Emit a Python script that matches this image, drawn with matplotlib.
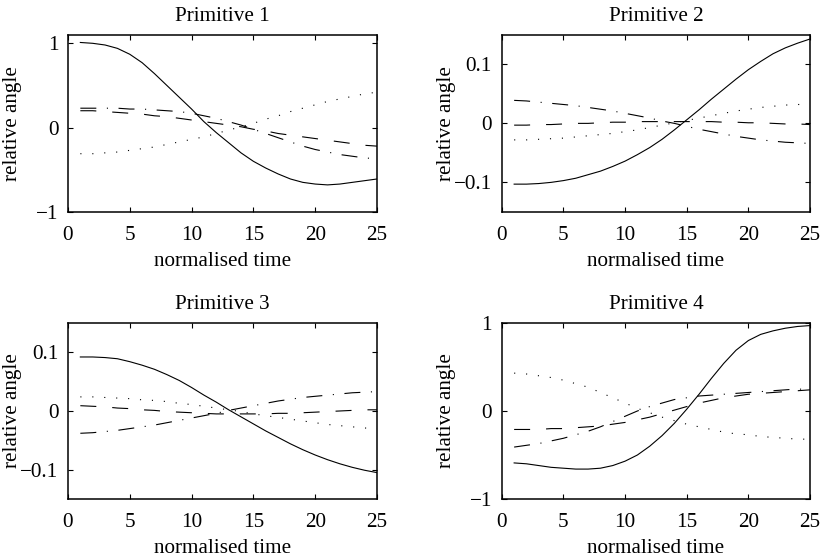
import matplotlib

matplotlib.use("Agg")
import matplotlib.pyplot as plt
import numpy as np

FIGSIZE = (8.24, 5.59)
DPI = 100
FONT_SIZE = 15.2

TIME = np.arange(1, 26)

# Primitive 1
P1_SOLID = [1.01, 1.00, 0.98, 0.94, 0.87, 0.77, 0.64, 0.50, 0.36, 0.22, 0.07, -0.06, -0.18,
            -0.30, -0.40, -0.48, -0.55, -0.61, -0.65, -0.67, -0.68, -0.67, -0.65, -0.63, -0.61]
P1_DOTTED = [-0.31, -0.31, -0.30, -0.29, -0.27, -0.25, -0.23, -0.20, -0.17, -0.14, -0.11, -0.07, -0.03,
             0.01, 0.05, 0.10, 0.14, 0.19, 0.23, 0.27, 0.31, 0.34, 0.37, 0.40, 0.42]
P1_DASHED = [0.20, 0.20, 0.19, 0.18, 0.17, 0.16, 0.14, 0.13, 0.11, 0.09, 0.07, 0.05, 0.03,
             0.01, -0.02, -0.04, -0.07, -0.09, -0.11, -0.13, -0.15, -0.17, -0.19, -0.21, -0.22]
P1_DASHDOT = [0.23, 0.23, 0.23, 0.23, 0.22, 0.22, 0.21, 0.20, 0.19, 0.17, 0.14, 0.11, 0.07,
              0.03, -0.02, -0.07, -0.12, -0.17, -0.22, -0.26, -0.29, -0.32, -0.34, -0.36, -0.37]

# Primitive 2
P2_SOLID = [-0.103, -0.103, -0.102, -0.100, -0.097, -0.093, -0.087, -0.081, -0.073, -0.064, -0.053,
            -0.041, -0.027, -0.011, 0.006, 0.023, 0.041, 0.058, 0.075, 0.091, 0.105, 0.118, 0.128,
            0.136, 0.143]
P2_DOTTED = [-0.028, -0.028, -0.027, -0.026, -0.025, -0.023, -0.021, -0.019, -0.017, -0.014, -0.011,
             -0.007, -0.003, 0.001, 0.005, 0.009, 0.013, 0.017, 0.021, 0.024, 0.027, 0.029, 0.031,
             0.032, 0.032]
P2_DASHED = [-0.003, -0.003, -0.002, -0.002, -0.001, 0.000, 0.000, 0.001, 0.002, 0.002, 0.003, 0.003,
             0.003, 0.003, 0.003, 0.003, 0.003, 0.002, 0.002, 0.001, 0.001, 0.000, -0.001, -0.001,
             -0.002]
P2_DASHDOT = [0.039, 0.038, 0.036, 0.034, 0.032, 0.030, 0.027, 0.024, 0.021, 0.017, 0.013, 0.009,
              0.004, 0.000, -0.005, -0.010, -0.014, -0.018, -0.022, -0.025, -0.028, -0.030, -0.032,
              -0.033, -0.034]

# Primitive 3
P3_SOLID = [0.092, 0.092, 0.091, 0.089, 0.084, 0.078, 0.071, 0.062, 0.052, 0.040, 0.027, 0.015,
            0.002, -0.010, -0.022, -0.034, -0.045, -0.056, -0.066, -0.075, -0.083, -0.090, -0.096,
            -0.101, -0.105]
P3_DOTTED = [0.024, 0.024, 0.023, 0.022, 0.021, 0.019, 0.018, 0.016, 0.013, 0.011, 0.008, 0.005,
             0.002, -0.001, -0.005, -0.008, -0.011, -0.014, -0.017, -0.020, -0.023, -0.025, -0.027,
             -0.029, -0.030]
P3_DASHED = [0.009, 0.008, 0.007, 0.005, 0.004, 0.002, 0.001, -0.001, -0.002, -0.003, -0.004, -0.005,
             -0.005, -0.005, -0.005, -0.005, -0.004, -0.004, -0.003, -0.002, -0.001, 0.000, 0.001,
             0.002, 0.002]
P3_DASHDOT = [-0.038, -0.037, -0.035, -0.033, -0.030, -0.027, -0.024, -0.020, -0.016, -0.012, -0.008,
              -0.004, 0.001, 0.005, 0.009, 0.013, 0.017, 0.020, 0.023, 0.025, 0.027, 0.029, 0.031,
              0.032, 0.033]

# Primitive 4
P4_SOLID = [-0.59, -0.60, -0.62, -0.64, -0.65, -0.66, -0.66, -0.65, -0.62, -0.57, -0.50, -0.40, -0.28,
            -0.14, 0.02, 0.19, 0.37, 0.54, 0.69, 0.80, 0.87, 0.91, 0.94, 0.96, 0.97]
P4_DOTTED = [0.43, 0.42, 0.40, 0.38, 0.35, 0.31, 0.27, 0.21, 0.15, 0.09, 0.03, -0.02, -0.07,
             -0.11, -0.15, -0.18, -0.21, -0.24, -0.26, -0.27, -0.29, -0.30, -0.31, -0.32, -0.32]
P4_DASHED = [-0.21, -0.21, -0.21, -0.20, -0.20, -0.19, -0.18, -0.17, -0.15, -0.13, -0.10, -0.07, -0.03,
             0.01, 0.05, 0.09, 0.12, 0.15, 0.17, 0.19, 0.20, 0.21, 0.22, 0.23, 0.24]
P4_DASHDOT = [-0.41, -0.39, -0.37, -0.34, -0.31, -0.27, -0.23, -0.18, -0.12, -0.06, 0.00, 0.05, 0.09,
              0.13, 0.15, 0.17, 0.18, 0.19, 0.20, 0.21, 0.22, 0.23, 0.24, 0.25, 0.24]

TITLES = ["Primitive 1", "Primitive 2", "Primitive 3", "Primitive 4"]
XTICKS = [0, 5, 10, 15, 20, 25]
BIG_YTICKS = [-1, 0, 1]
BIG_YLABELS = ["\u22121", "0", "1"]
SMALL_YTICKS = [-0.1, 0, 0.1]
SMALL_YLABELS = ["\u22120.1", "0", "0.1"]

# MATLAB-like line styles, dash lengths in points
STYLES = {
    "solid": "-",
    "dotted": (0, (0.8, 7.8)),
    "dashed": (0, (11.5, 11.5)),
    "dashdot": (0, (11.5, 7.6, 0.8, 7.6)),
}

PANELS = [
    # (left, bottom, width, height), ylim, yticks, ylabels, series
    ((0.0825, 0.621, 0.375, 0.3166), (-1, 1.1), BIG_YTICKS, BIG_YLABELS,
     (P1_SOLID, P1_DOTTED, P1_DASHED, P1_DASHDOT)),
    ((0.609, 0.621, 0.374, 0.3166), (-0.15, 0.15), SMALL_YTICKS, SMALL_YLABELS,
     (P2_SOLID, P2_DOTTED, P2_DASHED, P2_DASHDOT)),
    ((0.0825, 0.1073, 0.375, 0.315), (-0.15, 0.15), SMALL_YTICKS, SMALL_YLABELS,
     (P3_SOLID, P3_DOTTED, P3_DASHED, P3_DASHDOT)),
    ((0.609, 0.1073, 0.374, 0.315), (-1, 1), BIG_YTICKS, BIG_YLABELS,
     (P4_SOLID, P4_DOTTED, P4_DASHED, P4_DASHDOT)),
]


def setup_matplotlib() -> None:
    plt.rcParams.update(
        {
            "font.family": ["Liberation Serif", "DejaVu Serif"],
            "font.size": FONT_SIZE,
            "lines.scale_dashes": False,
            "xtick.direction": "in",
            "ytick.direction": "in",
            "xtick.top": True,
            "ytick.right": True,
            "xtick.major.size": 3.5,
            "ytick.major.size": 3.5,
            "xtick.major.width": 0.8,
            "ytick.major.width": 0.8,
            "axes.linewidth": 1.1,
            "xtick.major.pad": 10,
            "ytick.major.pad": 7,
        }
    )


def draw_panel(ax, title, ylim, yticks, ylabels, series) -> None:
    solid, dotted, dashed, dashdot = series
    ax.plot(TIME, solid, color="black", linestyle=STYLES["solid"], linewidth=0.8)
    ax.plot(TIME, dashed, color="black", linestyle=STYLES["dashed"], linewidth=0.8)
    ax.plot(TIME, dotted, color="black", linestyle=STYLES["dotted"], linewidth=0.8)
    ax.plot(TIME, dashdot, color="black", linestyle=STYLES["dashdot"], linewidth=0.8)
    ax.set_xlim(0, 25)
    ax.set_ylim(*ylim)
    ax.set_xticks(XTICKS)
    ax.set_xticklabels([str(t) for t in XTICKS])
    ax.set_yticks(yticks)
    ax.set_yticklabels(ylabels)
    ax.set_title(title, fontsize=FONT_SIZE, pad=10)
    ax.set_xlabel("normalised time", labelpad=5)
    ax.set_ylabel("relative angle")
    # MATLAB keeps the y label at a fixed spot, even over wide tick labels
    ax.yaxis.set_label_coords(-0.148, 0.5)


def main() -> None:
    setup_matplotlib()
    fig = plt.figure(figsize=FIGSIZE, dpi=DPI)
    for title, (rect, ylim, yticks, ylabels, series) in zip(TITLES, PANELS):
        ax = fig.add_axes(rect)
        draw_panel(ax, title, ylim, yticks, ylabels, series)
    fig.savefig("out.png", dpi=DPI)
    plt.close(fig)


if __name__ == "__main__":
    main()
